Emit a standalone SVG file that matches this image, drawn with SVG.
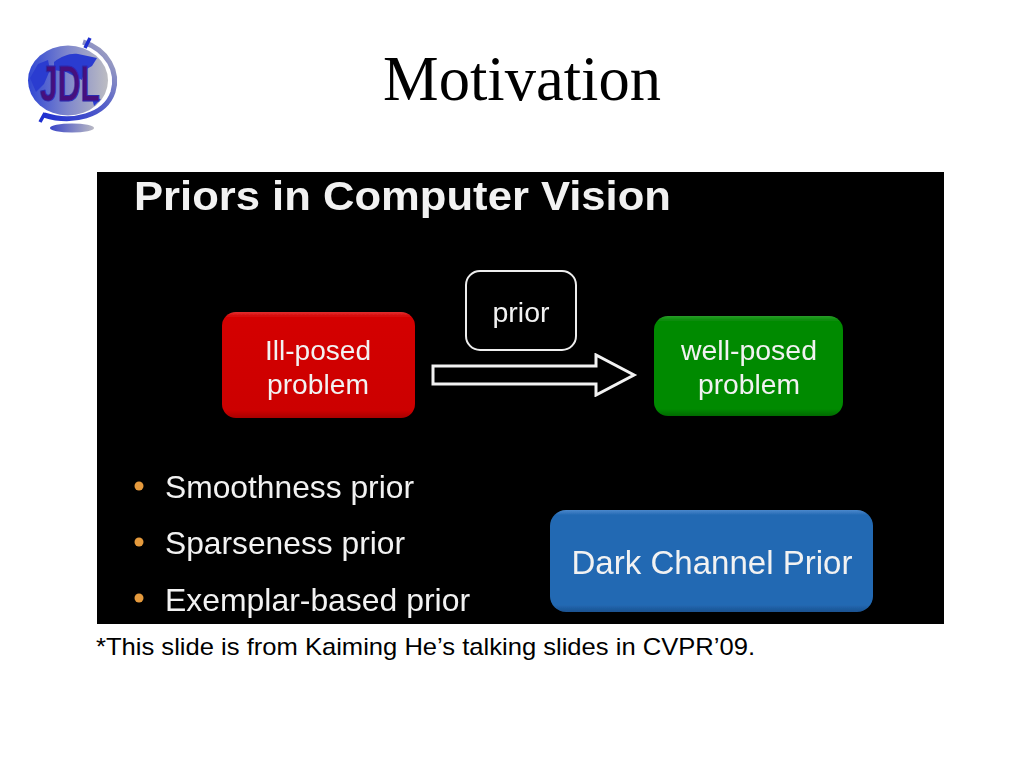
<svg xmlns="http://www.w3.org/2000/svg" width="1024" height="768" viewBox="0 0 1024 768">
<style>
.s{font-family:"Liberation Sans",Arial,sans-serif;fill:#f2f2f2}
.m{text-anchor:middle}
.b{fill:#e59a3c}
.soft{filter:url(#soft)}
</style>
<defs>
<filter id="soft" x="-5%" y="-5%" width="110%" height="110%"><feGaussianBlur stdDeviation="0.55"/></filter>
<linearGradient id="globe" x1="0" x2="1" y1="0" y2="0"><stop offset="0" stop-color="#2f46d4"/><stop offset="0.5" stop-color="#8088cc"/><stop offset="1" stop-color="#bdbdc2"/></linearGradient>
<linearGradient id="base" x1="0" x2="1" y1="0" y2="0"><stop offset="0" stop-color="#3a45c8"/><stop offset="1" stop-color="#b9b9c4"/></linearGradient>
<linearGradient id="ring" x1="0" x2="1" y1="1" y2="0"><stop offset="0" stop-color="#1f2fd0"/><stop offset="0.55" stop-color="#5a64c8"/><stop offset="1" stop-color="#b4b4c0"/></linearGradient>
<linearGradient id="red" x1="0" x2="0" y1="0" y2="1"><stop offset="0" stop-color="#e23030"/><stop offset="0.05" stop-color="#d40000"/><stop offset="0.93" stop-color="#cc0000"/><stop offset="1" stop-color="#a80000"/></linearGradient>
<linearGradient id="green" x1="0" x2="0" y1="0" y2="1"><stop offset="0" stop-color="#2a9c2a"/><stop offset="0.05" stop-color="#058a05"/><stop offset="0.93" stop-color="#058a05"/><stop offset="1" stop-color="#036a03"/></linearGradient>
<linearGradient id="blue" x1="0" x2="0" y1="0" y2="1"><stop offset="0" stop-color="#4a88cc"/><stop offset="0.05" stop-color="#2369b3"/><stop offset="0.93" stop-color="#2369b3"/><stop offset="1" stop-color="#1a5290"/></linearGradient>
</defs>
<rect width="1024" height="768" fill="#fff"/>
<g id="logo">
<ellipse cx="72" cy="128" rx="22" ry="4.5" fill="url(#base)"/>
<path d="M83 42 C108 50 119 72 113 92 C105 116 72 124 44 115" fill="none" stroke="url(#ring)" stroke-width="5"/>
<path d="M90 38 L85 48 M40 122 L45 113" stroke="#1f2fd0" stroke-width="3.5" fill="none"/>
<ellipse cx="68" cy="80.5" rx="40" ry="35" fill="url(#globe)"/>
<path d="M54 62 C62 56 70 53 78 54 L97 58 L92 66 L85 70 L82 80 L66 72 L54 70Z M30 78 L38 64 L48 60 L50 70 L44 84 L36 92Z M92 98 L101 99 L94 106Z" fill="#2a3cd0"/>
<text x="70" y="101" font-family="'Liberation Sans',sans-serif" font-weight="bold" font-size="50" text-anchor="middle" textLength="60" lengthAdjust="spacingAndGlyphs" fill="#46107e" stroke="#2a2ab0" stroke-width="1">JDL</text>
</g>
<text id="title" x="522" y="100" font-family="'Liberation Serif','Times New Roman',serif" font-size="62.5" text-anchor="middle" fill="#000">Motivation</text>
<rect id="slide" x="97" y="172" width="847" height="452" fill="#000"/>
<text id="heading" class="s soft" x="134" y="210" font-size="41" font-weight="bold" textLength="537" lengthAdjust="spacingAndGlyphs">Priors in Computer Vision</text>
<g id="connectors" class="soft">
<path d="M433 366 H596 V355 L634 375 L596 395 V384 H433Z" fill="#000" stroke="#f2f2f2" stroke-width="3"/>
</g>
<g id="ill-posed" class="soft">
<rect x="222" y="312" width="193" height="106" rx="14" fill="url(#red)"/>
<text x="318" y="360" class="s m" font-size="28.5" textLength="106" lengthAdjust="spacingAndGlyphs">Ill-posed</text>
<text x="318" y="394" class="s m" font-size="28.5" textLength="102" lengthAdjust="spacingAndGlyphs">problem</text>
</g>
<g id="prior" class="soft">
<rect x="466" y="271" width="110" height="79" rx="14" fill="#000" stroke="#eee" stroke-width="2"/>
<text x="521" y="322" class="s m" font-size="28.5" textLength="57" lengthAdjust="spacingAndGlyphs">prior</text>
</g>
<g id="well-posed" class="soft">
<rect x="654" y="316" width="189" height="100" rx="14" fill="url(#green)"/>
<text x="749" y="360" class="s m" font-size="28.5" textLength="136" lengthAdjust="spacingAndGlyphs">well-posed</text>
<text x="749" y="394" class="s m" font-size="28.5" textLength="102" lengthAdjust="spacingAndGlyphs">problem</text>
</g>
<g id="bullets" class="soft">
<circle cx="139" cy="486" r="4.5" class="b"/>
<text x="165" y="498" class="s" font-size="32" textLength="249" lengthAdjust="spacingAndGlyphs">Smoothness prior</text>
<circle cx="139" cy="542" r="4.5" class="b"/>
<text x="165" y="554" class="s" font-size="32" textLength="240" lengthAdjust="spacingAndGlyphs">Sparseness prior</text>
<circle cx="139" cy="598" r="4.5" class="b"/>
<text x="165" y="611" class="s" font-size="32" textLength="305" lengthAdjust="spacingAndGlyphs">Exemplar-based prior</text>
</g>
<g id="dark-channel" class="soft">
<rect x="550" y="510" width="323" height="102" rx="16" fill="url(#blue)"/>
<text x="712" y="574" class="s m" font-size="34" textLength="281" lengthAdjust="spacingAndGlyphs">Dark Channel Prior</text>
</g>
<text id="note" x="96" y="655" font-family="'Liberation Sans',Arial,sans-serif" font-size="24" fill="#000" textLength="659" lengthAdjust="spacingAndGlyphs">*This slide is from Kaiming He’s talking slides in CVPR’09.</text>
</svg>
